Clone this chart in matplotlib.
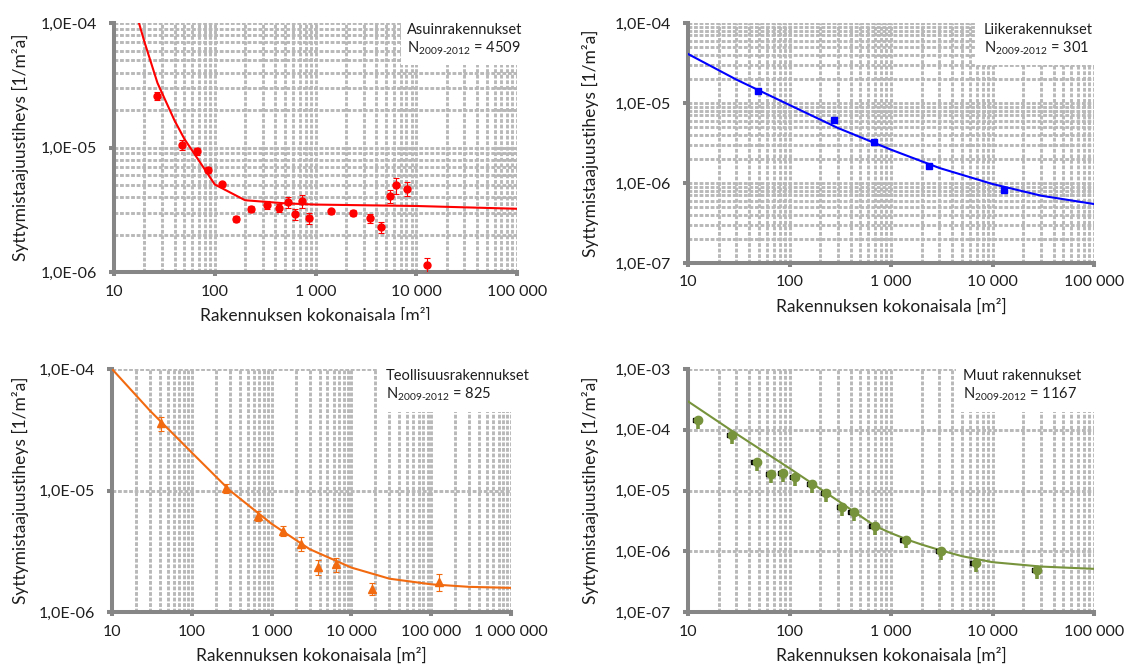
import numpy as np
import matplotlib
matplotlib.use('Agg')
import matplotlib.pyplot as plt
from matplotlib.ticker import LogLocator, FuncFormatter, NullFormatter
from matplotlib.patches import Rectangle

FONT = ['Lato', 'DejaVu Sans']
plt.rcParams['font.family'] = FONT
plt.rcParams['mathtext.fontset'] = 'custom'
plt.rcParams['mathtext.rm'] = 'Lato'
plt.rcParams['mathtext.it'] = 'Lato'

# ---------------- data ----------------
# Asuinrakennukset (residential)
asuin_x = [27, 47.6, 67, 85, 119, 163, 231, 330, 439, 534, 623, 740, 871, 1430,
           2370, 3480, 4440, 5440, 6240, 8040, 12650]
asuin_y = [2.6e-5, 1.05e-5, 9.3e-6, 6.6e-6, 5.05e-6, 2.67e-6, 3.22e-6, 3.47e-6,
           3.28e-6, 3.62e-6, 2.9e-6, 3.74e-6, 2.72e-6, 3.08e-6, 2.97e-6, 2.69e-6,
           2.29e-6, 4.06e-6, 4.96e-6, 4.68e-6, 1.14e-6]
asuin_err = [0.08, 0.09, 0.06, 0.05, 0.05, 0.05, 0.06, 0.07, 0.08, 0.10, 0.10,
             0.12, 0.10, 0.05, 0.06, 0.08, 0.10, 0.12, 0.15, 0.13, 0.14]
asuin_fit_x = [17.7, 20, 27, 40, 50, 70, 100, 200, 500, 1000, 10000, 100000]
asuin_fit_y = [1.0e-4, 7.1e-5, 3.3e-5, 1.64e-5, 1.17e-5, 7.8e-6, 5.05e-6, 3.77e-6,
               3.56e-6, 3.48e-6, 3.39e-6, 3.22e-6]

# Liikerakennukset (commercial)
liike_x = [48.5, 273, 677, 2355, 12900]
liike_y = [1.40e-5, 6.19e-6, 3.29e-6, 1.62e-6, 8.26e-7]
liike_err = [0.06, 0.07, 0.04, 0.05, 0.04]
liike_fit_x = [10, 30, 100, 300, 1000, 3000, 10000, 30000, 100000]
liike_fit_y = [4.10e-5, 1.96e-5, 9.44e-6, 4.87e-6, 2.61e-6, 1.54e-6, 9.72e-7, 6.95e-7, 5.46e-7]

# Teollisuusrakennukset (industrial)
teoll_x = [41, 265, 677, 1393, 2355, 3826, 6470, 17900, 124700]
teoll_y = [3.58e-5, 1.04e-5, 6.19e-6, 4.66e-6, 3.66e-6, 2.35e-6, 2.47e-6, 1.56e-6, 1.77e-6]
teoll_err = [0.13, 0.08, 0.09, 0.10, 0.14, 0.14, 0.13, 0.12, 0.16]
teoll_fit_x = [10, 30, 100, 300, 1000, 3000, 10000, 30000, 100000, 300000, 1000000]
teoll_fit_y = [1.0e-4, 4.53e-5, 2.05e-5, 1.00e-5, 5.32e-6, 3.29e-6, 2.32e-6, 1.88e-6,
               1.69e-6, 1.61e-6, 1.58e-6]

# Muut rakennukset (other)
muut_x = [12.6, 27.2, 47.4, 66.3, 86, 113.7, 166, 230, 330, 428, 689, 1393, 3105, 6820, 27400]
muut_y = [1.42e-4, 8.24e-5, 2.99e-5, 1.87e-5, 1.92e-5, 1.65e-5, 1.26e-5, 8.98e-6,
          5.41e-6, 4.47e-6, 2.59e-6, 1.56e-6, 1.02e-6, 6.44e-7, 4.88e-7]
muut_err = [0.18] * 15
muut_fit_x = [10, 30, 100, 300, 700, 1000, 1500, 2000, 3000, 5000, 10000, 30000, 100000]
muut_fit_y = [2.93e-4, 8.57e-5, 2.32e-5, 6.79e-6, 2.59e-6, 1.99e-6, 1.52e-6, 1.29e-6,
              1.05e-6, 8.30e-7, 6.61e-7, 5.60e-7, 5.13e-7]

panels = [
    dict(name='Asuinrakennukset', n='4509', x=asuin_x, y=asuin_y, err=asuin_err,
         fx=asuin_fit_x, fy=asuin_fit_y, color='#ff0000', marker='o', ms=5,
         xlim=(10, 1e5), ylim=(1e-6, 1e-4), yminor_grid=True,
         rect=(114, 23, 517, 272), box=(0.713, 0.83), txt=(0.727, 0.972)),
    dict(name='Liikerakennukset', n='301', x=liike_x, y=liike_y, err=liike_err,
         fx=liike_fit_x, fy=liike_fit_y, color='#0000ff', marker='s', ms=5,
         xlim=(10, 1e5), ylim=(1e-7, 1e-4), yminor_grid=True,
         rect=(688, 23, 1094, 263), box=(0.707, 0.825), txt=(0.728, 0.971)),
    dict(name='Teollisuusrakennukset', n='825', x=teoll_x, y=teoll_y, err=teoll_err,
         fx=teoll_fit_x, fy=teoll_fit_y, color='#f26a10', marker='^', ms=6,
         xlim=(10, 1e6), ylim=(1e-6, 1e-4), yminor_grid=False,
         rect=(112, 369, 511, 612), box=(0.663, 0.823), txt=(0.687, 0.971)),
    dict(name='Muut rakennukset', n='1167', x=muut_x, y=muut_y, err=muut_err,
         fx=muut_fit_x, fy=muut_fit_y, color='#77933c', marker='o', ms=6,
         xlim=(10, 1e5), ylim=(1e-7, 1e-3), yminor_grid=False,
         rect=(688, 369, 1094, 612), box=(0.659, 0.823), txt=(0.677, 0.971)),
]

W, H = 1126, 664
fig = plt.figure(figsize=(W / 100, H / 100), dpi=100)

AX_COL = '#868686'
GRID_COL = '#b8b8b8'
TXT_COL = '#1e1e1e'


def xfmt(v, pos):
    return '{:,}'.format(int(round(v))).replace(',', ' ')


def yfmt(v, pos):
    return '{:.1E}'.format(v).replace('.', ',')


for p in panels:
    l, t, r, b = p['rect']
    aw, ah = r - l, b - t
    ax = fig.add_axes([l / W, 1 - b / H, aw / W, ah / H])
    ax.set_xscale('log')
    ax.set_yscale('log')
    ax.set_xlim(*p['xlim'])
    ax.set_ylim(*p['ylim'])
    ax.xaxis.set_major_locator(LogLocator(base=10, numticks=20))
    ax.xaxis.set_minor_locator(LogLocator(base=10, subs=np.arange(2, 10), numticks=50))
    ax.yaxis.set_major_locator(LogLocator(base=10, numticks=20))
    ax.yaxis.set_minor_locator(LogLocator(base=10, subs=np.arange(2, 10), numticks=50))
    ax.xaxis.set_major_formatter(FuncFormatter(xfmt))
    ax.yaxis.set_major_formatter(FuncFormatter(yfmt))
    ax.xaxis.set_minor_formatter(NullFormatter())
    ax.yaxis.set_minor_formatter(NullFormatter())

    gkw = dict(color=GRID_COL, linewidth=2.1, linestyle=(0, (1.3, 0.6)))
    ax.grid(True, which='both', axis='x', **gkw)
    ax.grid(True, which='major', axis='y', **gkw)
    if p['yminor_grid']:
        ax.grid(True, which='minor', axis='y', **gkw)
    ax.set_axisbelow(True)

    for s in ['top', 'right']:
        ax.spines[s].set_visible(False)
    for s in ['left', 'bottom']:
        ax.spines[s].set_color(AX_COL)
        ax.spines[s].set_linewidth(2.9)
    ax.tick_params(which='major', axis='y', direction='out', length=3.5, width=2.9,
                   color=AX_COL, labelsize=11.5, labelcolor=TXT_COL, pad=9)
    ax.tick_params(which='major', axis='x', direction='out', length=3, width=2.9,
                   color=AX_COL, labelsize=11.5, labelcolor=TXT_COL, pad=6)
    ax.tick_params(which='minor', length=0)

    # white label box hiding the grid
    bx, by = p['box']
    ax.add_patch(Rectangle((bx, by), 1.2 - bx, 1.2 - by, transform=ax.transAxes,
                           facecolor='white', edgecolor='none', zorder=1.5, clip_on=False))

    # fitted curve
    ax.plot(p['fx'], p['fy'], color=p['color'], lw=1.5, zorder=3)
    # data with error bars
    y = np.array(p['y'])
    e = np.array(p['err']) * y
    if p['name'] == 'Muut rakennukset':
        ax.errorbar(np.array(p['x']) * 0.93, y, fmt='s', color='black', ms=2.5, zorder=3.5)
        ax.errorbar(p['x'], y, yerr=[e * 1.6, e * 0.2], fmt=p['marker'], color=p['color'],
                    ms=p['ms'], elinewidth=2.6, capsize=0, zorder=4)
    else:
        ax.errorbar(p['x'], y, yerr=e, fmt=p['marker'], color=p['color'], ms=p['ms'],
                    elinewidth=0.8, capsize=2.5, capthick=0.8, ecolor=p['color'],
                    zorder=4)

    tx, ty = p['txt']
    ax.text(tx, ty, p['name'], transform=ax.transAxes, fontsize=10.5, color=TXT_COL,
            va='center', ha='left', zorder=5)
    ax.text(tx, ty - 0.075, r'N$_{\mathregular{2009\text{-}2012}}$ = ' + p['n'],
            transform=ax.transAxes, fontsize=10.5, color=TXT_COL,
            va='center', ha='left', zorder=5)

    ax.set_xlabel('Rakennuksen kokonaisala [m²]', fontsize=12.5, color=TXT_COL)
    ax.set_ylabel('Syttymistaajuustiheys [1/m²a]', fontsize=12.5, color=TXT_COL)
    ax.xaxis.set_label_coords(0.5, -44 / ah)
    ax.xaxis.label.set_verticalalignment('center')
    ax.yaxis.set_label_coords(-(l - 20) / aw if l < 500 else -(l - 560 - 30) / aw, 0.5)
    ax.yaxis.label.set_verticalalignment('center')

fig.savefig('out.png', dpi=100, facecolor='white')
